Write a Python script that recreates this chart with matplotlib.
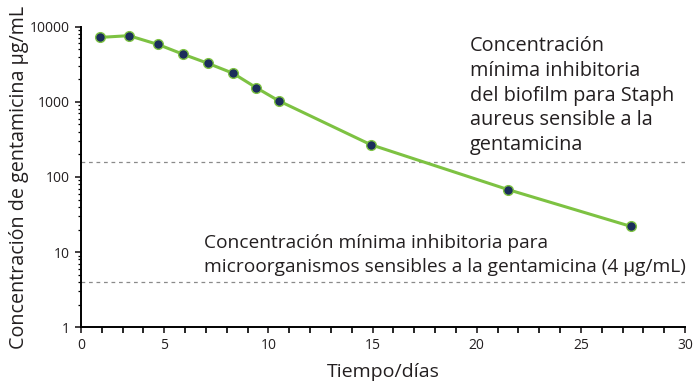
import matplotlib.pyplot as plt
import matplotlib.ticker as mticker

plt.rcParams['font.family'] = ['Open Sans', 'DejaVu Sans']

# datos
dias = [1.9, 3.3, 4.7, 5.9, 7.1, 8.3, 9.4, 10.5, 14.9, 21.5, 27.4]
conc = [7200, 7600, 5800, 4300, 3250, 2400, 1550, 1030, 270, 68, 22]

cmi_biofilm = 160   # ug/mL
cmi_sensible = 4    # ug/mL

xticks = [1, 5, 10, 15, 20, 25, 30]
xticklabels = ['0', '5', '10', '15', '20', '25', '30']
yticks = [1, 10, 100, 1000, 10000]
yticklabels = ['1', '10', '100', '1000', '10000']

fig = plt.figure(figsize=(6.93, 3.87), dpi=100)
ax = fig.add_axes([0.1169, 0.1543, 0.8716, 0.7767])

ax.axhline(cmi_biofilm, color='#8a8a8a', lw=0.9, ls=(0, (3, 3)), zorder=1)
ax.axhline(cmi_sensible, color='#8a8a8a', lw=0.9, ls=(0, (3, 3)), zorder=1)

ax.plot(dias, conc, color='#7dc242', lw=2.2, marker='o', ms=7,
        markerfacecolor='#1b2d5b', markeredgecolor='#7dc242', markeredgewidth=1.0,
        zorder=3, clip_on=False)

ax.set_yscale('log')
ax.set_ylim(1, 10000)
ax.set_xlim(1, 30)

ax.set_xticks(xticks)
ax.set_xticklabels(xticklabels)
ax.xaxis.set_minor_locator(mticker.MultipleLocator(1))
ax.set_yticks(yticks)
ax.set_yticklabels(yticklabels)
ax.yaxis.set_minor_locator(mticker.LogLocator(base=10, subs=range(2, 10)))
ax.yaxis.set_minor_formatter(mticker.NullFormatter())

for s in ['top', 'right']:
    ax.spines[s].set_visible(False)
for s in ['left', 'bottom']:
    ax.spines[s].set_linewidth(1.4)

ax.tick_params(axis='both', which='major', direction='out', length=4, width=1.2,
               labelsize=10, colors='#231f20', pad=4)
ax.tick_params(axis='x', which='minor', direction='out', length=4, width=1.2)
ax.tick_params(axis='y', which='minor', direction='out', length=2.5, width=0.9)

ax.set_xlabel('Tiempo/días', fontsize=14, color='#231f20', labelpad=7)
ax.set_ylabel('Concentración de gentamicina µg/mL', fontsize=14.2, color='#231f20', labelpad=1)

fig.text(470 / 693, 1 - 36 / 387,
         'Concentración\nmínima inhibitoria\ndel biofilm para Staph\naureus sensible a la\ngentamicina',
         fontsize=14.3, color='#231f20', va='top', ha='left', linespacing=1.32)

fig.text(204 / 693, 1 - 234 / 387,
         'Concentración mínima inhibitoria para\nmicroorganismos sensibles a la gentamicina (4 µg/mL)',
         fontsize=13.8, color='#231f20', va='top', ha='left', linespacing=1.45)

fig.savefig('out.png', dpi=100)
